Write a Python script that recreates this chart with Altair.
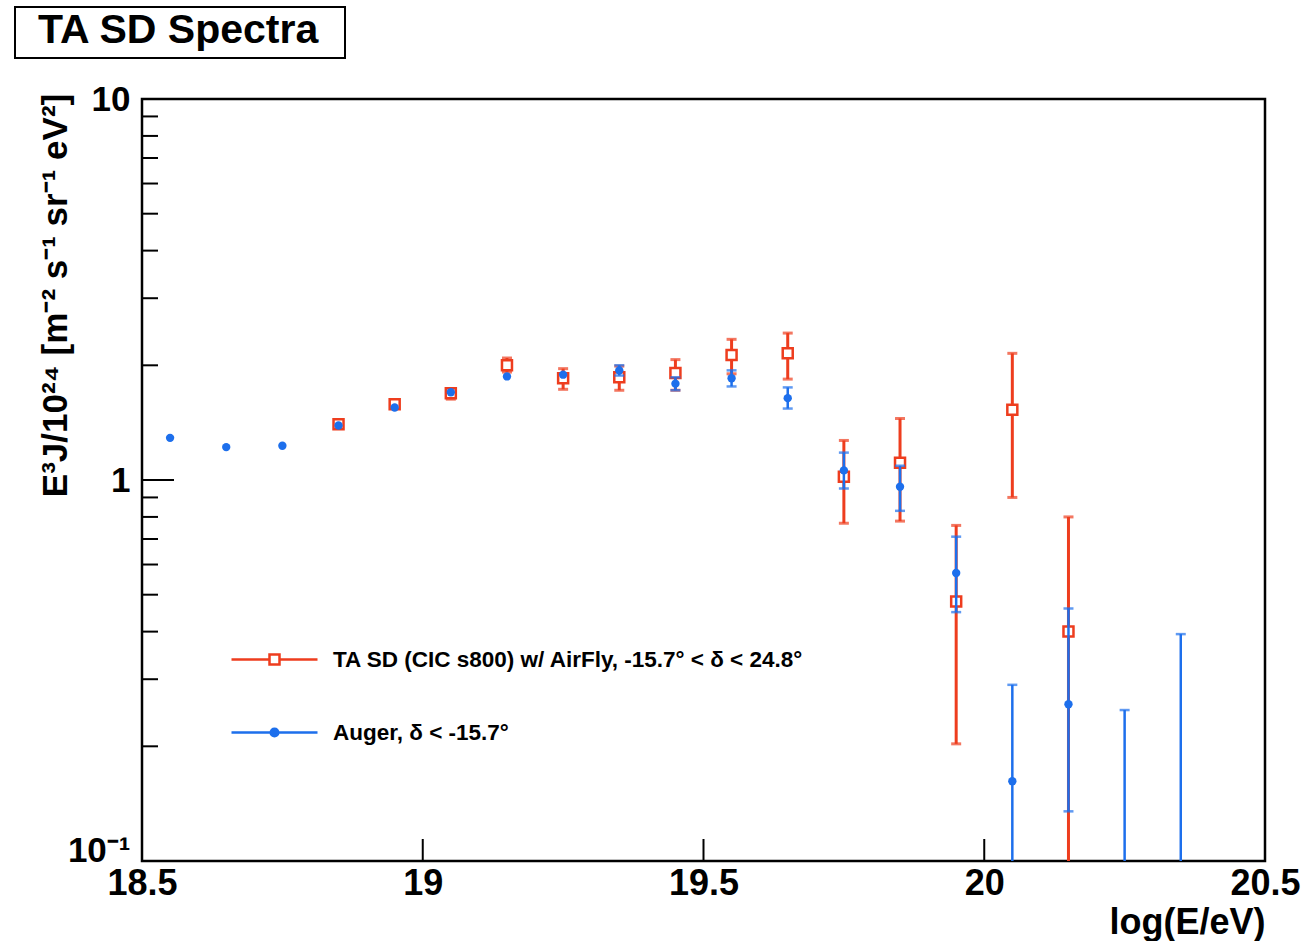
import altair as alt
import pandas as pd
import numpy as np

# ---------------- data ----------------
TA_LABEL = "TA SD (CIC s800) w/ AirFly, -15.7° <  δ < 24.8°"
AUGER_LABEL = "Auger,  δ < -15.7°"

ta_x = [18.85, 18.95, 19.05, 19.15, 19.25, 19.35, 19.45, 19.55, 19.65, 19.75, 19.85, 19.95, 20.05, 20.15]
ta_y = [1.40, 1.58, 1.69, 2.00, 1.85, 1.86, 1.91, 2.13, 2.15, 1.02, 1.11, 0.48, 1.53, 0.40]
ta_lo = [1.37, 1.54, 1.63, 1.92, 1.73, 1.72, 1.72, 1.90, 1.84, 0.77, 0.78, 0.203, 0.90, None]
ta_hi = [1.43, 1.62, 1.74, 2.09, 1.96, 1.99, 2.07, 2.34, 2.43, 1.27, 1.45, 0.76, 2.15, 0.80]

au_x = [18.55, 18.65, 18.75, 18.85, 18.95, 19.05, 19.15, 19.25, 19.35, 19.45, 19.55, 19.65,
        19.75, 19.85, 19.95, 20.05, 20.15, 20.25, 20.35]
au_y = [1.29, 1.22, 1.23, 1.39, 1.55, 1.70, 1.87, 1.89, 1.94, 1.79, 1.85, 1.64,
        1.06, 0.96, 0.57, 0.162, 0.258, None, None]
au_lo = [1.28, 1.21, 1.22, 1.38, 1.54, 1.68, 1.84, 1.86, 1.88, 1.72, 1.76, 1.54,
         0.95, 0.83, 0.45, None, 0.135, None, None]
au_hi = [1.30, 1.23, 1.24, 1.40, 1.56, 1.72, 1.90, 1.92, 2.00, 1.86, 1.94, 1.75,
         1.18, 1.09, 0.71, 0.29, 0.46, 0.249, 0.394]

x_tick_values = [19.0, 19.5, 20.0]
y_major_ticks = [1.0]
y_minor_ticks = [0.2, 0.3, 0.4, 0.5, 0.6, 0.7, 0.8, 0.9, 2, 3, 4, 5, 6, 7, 8, 9]

# ---------------- styling ----------------
RED = "#ee3d1e"
BLUE = "#1d6fec"
FONT = "Liberation Sans"
W, H = 1123, 762
YMIN, YMAX = 0.1, 10.0
PX_PER_DEC = H / np.log10(YMAX / YMIN)


def frames(x, y, lo, hi, half_marker_px):
    df = pd.DataFrame({"x": x, "y": y, "lo": lo, "hi": hi})
    bars = df.copy()
    bars["lo"] = bars["lo"].fillna(YMIN)
    pts = df.dropna(subset=["y"])
    thr = half_marker_px / PX_PER_DEC
    caps = []
    for _, r in df.iterrows():
        for key in ("lo", "hi"):
            v = r[key]
            if v is None or pd.isna(v):
                continue
            if not pd.isna(r["y"]) and abs(np.log10(v) - np.log10(r["y"])) < thr:
                continue
            caps.append({"x": r["x"], "v": v})
    return bars, pts, pd.DataFrame(caps)


ta_bars, ta_pts, ta_caps = frames(ta_x, ta_y, ta_lo, ta_hi, 5.5)
au_bars, au_pts, au_caps = frames(au_x, au_y, au_lo, au_hi, 4.5)

xscale = alt.Scale(domain=[18.5, 20.5], nice=False, zero=False)
yscale = alt.Scale(type="log", domain=[YMIN, YMAX], nice=False)

xaxis = alt.Axis(values=[18.5, 19, 19.5, 20, 20.5], ticks=False, domain=False, grid=False,
                 labelFont=FONT, labelFontSize=36, labelFontWeight="bold", labelColor="black",
                 labelPadding=5, labelFlush=False, labelExpr="format(datum.value, '')",
                 title="log(E/eV)", titleFont=FONT, titleFontSize=36, titleFontWeight="bold",
                 titleColor="black", titleAlign="right", titleAnchor="end", titleX=W, titleY=72,
                 titleBaseline="alphabetic")
yaxis = alt.Axis(values=[0.1, 1, 10], ticks=False, domain=False, grid=False,
                 labelFont=FONT, labelFontSize=35, labelFontWeight="bold", labelColor="black",
                 labelPadding=12, labelFlush=False,
                 labelBaseline={"condition": {"test": "datum.value < 0.5", "value": "alphabetic"},
                                "value": "middle"},
                 labelExpr="datum.value < 0.5 ? '10⁻¹' : (datum.value > 5 ? '10' : '1')",
                 title="E³J/10²⁴ [m⁻² s⁻¹ sr⁻¹ eV²]", titleFont=FONT, titleFontSize=35,
                 titleFontWeight="bold", titleColor="black", titleAngle=270,
                 titleX=-87, titleY=196, titleAlign="center", titleBaseline="middle")


def X(f):
    return alt.X(f"{f}:Q", scale=xscale, axis=xaxis)


def Y(f):
    return alt.Y(f"{f}:Q", scale=yscale, axis=yaxis)


# inward ticks (ROOT style)
ytick_minor = alt.Chart(pd.DataFrame({"v": y_minor_ticks})).mark_rule(
    color="black", strokeWidth=2).encode(y=Y("v"), x=alt.value(0), x2=alt.value(16))
ytick_major = alt.Chart(pd.DataFrame({"v": y_major_ticks})).mark_rule(
    color="black", strokeWidth=2).encode(y=Y("v"), x=alt.value(0), x2=alt.value(32))
xtick_major = alt.Chart(pd.DataFrame({"v": x_tick_values})).mark_rule(
    color="black", strokeWidth=2).encode(x=X("v"), y=alt.value(H), y2=alt.value(H - 22))

# TA
ta_bar = alt.Chart(ta_bars).mark_rule(color=RED, strokeWidth=3, clip=True).encode(
    x=X("x"), y=Y("lo"), y2="hi")
ta_cap = alt.Chart(ta_caps).mark_tick(color=RED, orient="horizontal", size=10, thickness=3,
                                      clip=True).encode(x=X("x"), y=Y("v"))
ta_pt = alt.Chart(ta_pts).mark_point(shape="square", filled=True, fill="white", stroke=RED,
                                     strokeWidth=2.5, size=100, opacity=1).encode(
    x=X("x"), y=Y("y"))

# Auger
au_bar = alt.Chart(au_bars).mark_rule(color=BLUE, strokeWidth=2.5, clip=True).encode(
    x=X("x"), y=Y("lo"), y2="hi")
au_cap = alt.Chart(au_caps).mark_tick(color=BLUE, orient="horizontal", size=10, thickness=2.5,
                                      clip=True).encode(x=X("x"), y=Y("v"))
au_pt = alt.Chart(au_pts).mark_circle(color=BLUE, size=70, opacity=1).encode(
    x=X("x"), y=Y("y"))

# legend (native legend with line+marker symbols)
labels = [TA_LABEL, AUGER_LABEL]
path_ta = "M-4.3,0H-0.5M0.5,0H4.3M-0.5,-0.5H0.5V0.5H-0.5Z"
path_au = "M-4.3,0H4.3M0.38,0A0.38,0.38,0,1,1,-0.38,0A0.38,0.38,0,1,1,0.38,0Z"
leg = alt.Chart(pd.DataFrame({"series": labels})).mark_point(
    clip=True, strokeWidth=2.5, size=400, opacity=1).encode(
    x=alt.value(-600), y=alt.value(-600),
    color=alt.Color("series:N", scale=alt.Scale(domain=labels, range=[RED, BLUE]),
                    legend=alt.Legend(title=None)),
    fill=alt.Fill("series:N", scale=alt.Scale(domain=labels, range=["white", BLUE]),
                  legend=alt.Legend(title=None)),
    shape=alt.Shape("series:N", scale=alt.Scale(domain=labels, range=[path_ta, path_au]),
                    legend=alt.Legend(title=None)),
)

# title box
title_box = alt.Chart(pd.DataFrame({"t": ["TA SD Spectra"]})).mark_rect(
    fill="white", stroke="black", strokeWidth=2).encode(
    x=alt.value(15 - 142), x2=alt.value(345 - 142), y=alt.value(7 - 99), y2=alt.value(58 - 99))
title_text = alt.Chart(pd.DataFrame({"t": ["TA SD Spectra"]})).mark_text(
    font=FONT, fontSize=41, fontWeight="bold", align="left", baseline="middle", color="black").encode(
    x=alt.value(38 - 142), y=alt.value(31 - 99), text="t:N")

chart = alt.layer(
    ytick_minor, ytick_major, xtick_major,
    ta_bar, ta_cap, ta_pt,
    au_bar, au_cap, au_pt,
    leg, title_box, title_text,
).properties(
    width=W, height=H,
    autosize=alt.AutoSizeParams(type="none"),
    padding={"left": 142, "top": 99, "right": 36, "bottom": 80},
    background="white",
).configure_view(
    stroke="black", strokeWidth=2.5
).configure_legend(
    orient="none", legendX=121, legendY=549, padding=0,
    labelFont=FONT, labelFontSize=22.5, labelFontWeight="bold", labelColor="black",
    labelLimit=1000, labelOffset=47, rowPadding=50, symbolStrokeWidth=2.5, symbolSize=400,
)

chart.save("out.html", embed_options={"renderer": "svg", "actions": False})
